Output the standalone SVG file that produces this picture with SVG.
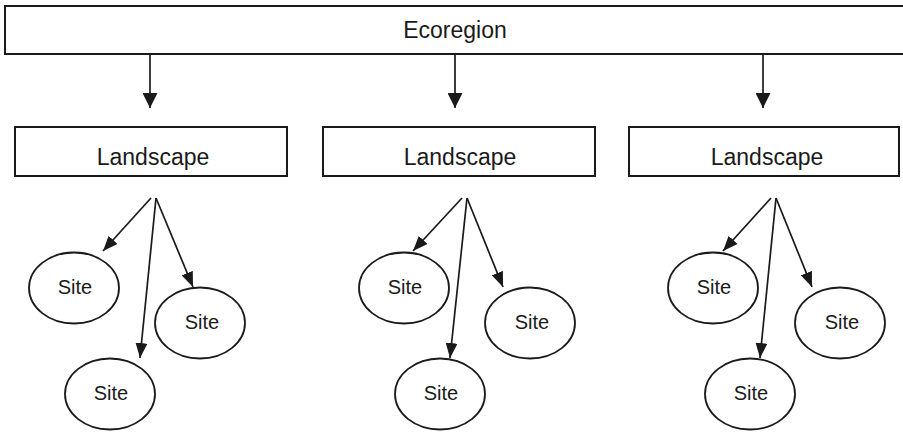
<svg xmlns="http://www.w3.org/2000/svg" width="903" height="432" viewBox="0 0 903 432">
<style>
  .box { fill: #ffffff; stroke: #1a1a1a; stroke-width: 2; }
  .site { fill: #ffffff; stroke: #1a1a1a; stroke-width: 1.8; }
  .lbl { font-family: "Liberation Sans", Arial, sans-serif; fill: #1a1a1a; text-anchor: middle; }
  .big { font-size: 23px; }
  .sm { font-size: 20px; }
  .conn line { stroke: #1a1a1a; stroke-width: 1.7; fill: none; }
  .down { marker-end: url(#bigArrow); }
  .toSite { marker-end: url(#smallArrow); }
</style>
<defs>
  <marker id="bigArrow" markerUnits="userSpaceOnUse" markerWidth="15" markerHeight="15" refX="15" refY="7.5" orient="auto">
    <path d="M0,0 L15,7.5 L0,15 z" fill="#1a1a1a"/>
  </marker>
  <marker id="smallArrow" markerUnits="userSpaceOnUse" markerWidth="15" markerHeight="12" refX="15" refY="6" orient="auto">
    <path d="M0,0 L15,6 L0,12 z" fill="#1a1a1a"/>
  </marker>
</defs>
<rect width="903" height="432" fill="#ffffff"/>

<g id="ecoregion">
  <rect class="box" x="5" y="6" width="910" height="48"/>
  <text class="lbl big" x="455" y="38">Ecoregion</text>
</g>

<g id="landscape1">
  <rect class="box" x="15" y="127" width="272" height="49"/>
  <text class="lbl big" x="153" y="165">Landscape</text>
</g>
<g id="landscape2">
  <rect class="box" x="323" y="127" width="272" height="49"/>
  <text class="lbl big" x="460" y="165">Landscape</text>
</g>
<g id="landscape3">
  <rect class="box" x="629" y="127" width="270" height="49"/>
  <text class="lbl big" x="767" y="165">Landscape</text>
</g>

<g id="site1a"><ellipse class="site" cx="74" cy="288" rx="45" ry="35.5"/><text class="lbl sm" x="75" y="294">Site</text></g>
<g id="site1b"><ellipse class="site" cx="200" cy="323" rx="45" ry="35.5"/><text class="lbl sm" x="202" y="329">Site</text></g>
<g id="site1c"><ellipse class="site" cx="110" cy="394" rx="45" ry="35.5"/><text class="lbl sm" x="111" y="400">Site</text></g>

<g id="site2a"><ellipse class="site" cx="404" cy="288" rx="45" ry="35.5"/><text class="lbl sm" x="405" y="294">Site</text></g>
<g id="site2b"><ellipse class="site" cx="530" cy="323" rx="45" ry="35.5"/><text class="lbl sm" x="532" y="329">Site</text></g>
<g id="site2c"><ellipse class="site" cx="440" cy="394" rx="45" ry="35.5"/><text class="lbl sm" x="441" y="400">Site</text></g>

<g id="site3a"><ellipse class="site" cx="713" cy="288" rx="45" ry="35.5"/><text class="lbl sm" x="714" y="294">Site</text></g>
<g id="site3b"><ellipse class="site" cx="840" cy="323" rx="45" ry="35.5"/><text class="lbl sm" x="842" y="329">Site</text></g>
<g id="site3c"><ellipse class="site" cx="750" cy="394" rx="45" ry="35.5"/><text class="lbl sm" x="751" y="400">Site</text></g>

<g id="connectors" class="conn">
  <line class="down" x1="150" y1="54" x2="150" y2="108"/>
  <line class="down" x1="455" y1="54" x2="455" y2="108"/>
  <line class="down" x1="763" y1="54" x2="763" y2="108"/>

  <line class="toSite" x1="151" y1="198" x2="103" y2="251"/>
  <line class="toSite" x1="156" y1="198" x2="193" y2="287"/>
  <line class="toSite" x1="156" y1="198" x2="140" y2="358"/>

  <line class="toSite" x1="462" y1="198" x2="413" y2="251"/>
  <line class="toSite" x1="467" y1="198" x2="503" y2="287"/>
  <line class="toSite" x1="467" y1="198" x2="450" y2="358"/>

  <line class="toSite" x1="771" y1="198" x2="723" y2="251"/>
  <line class="toSite" x1="776" y1="198" x2="812" y2="287"/>
  <line class="toSite" x1="776" y1="198" x2="760" y2="358"/>
</g>
</svg>
